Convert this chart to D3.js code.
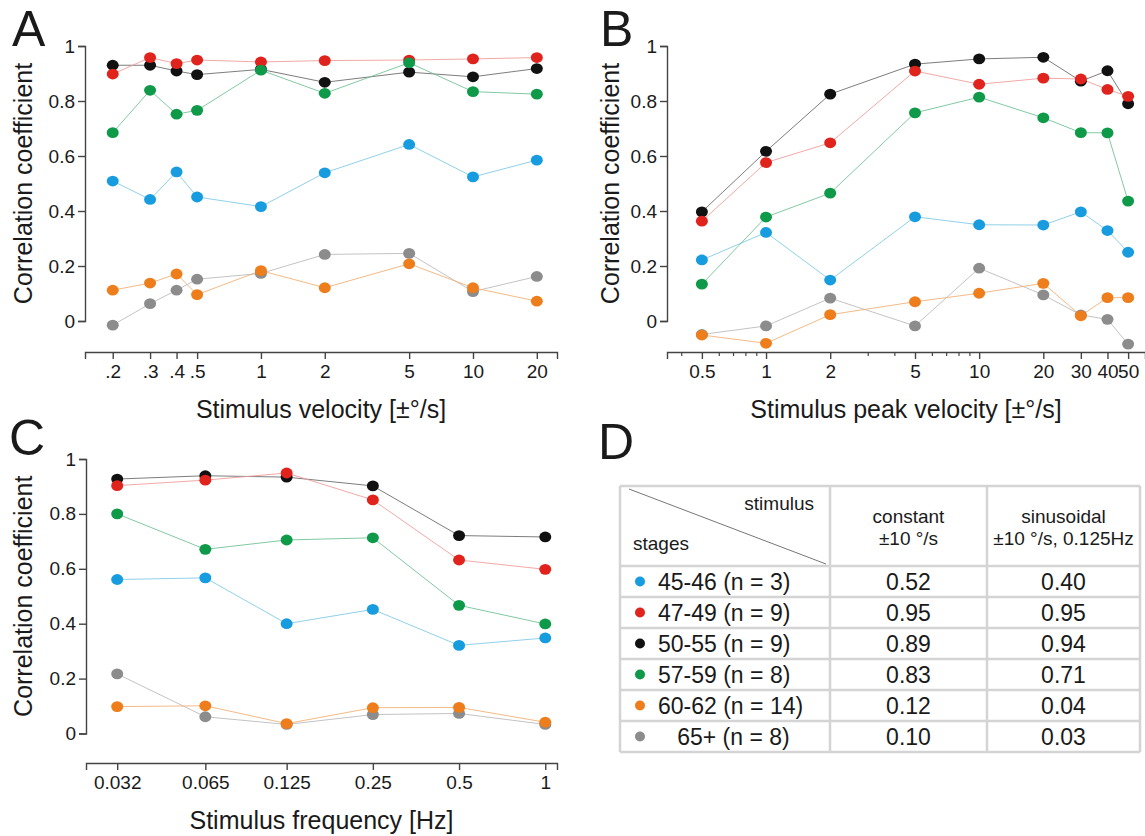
<!DOCTYPE html>
<html>
<head>
<meta charset="utf-8">
<script src="https://cdn.jsdelivr.net/npm/d3@7"></script>
<style>
  body { margin: 0; background: #fff; }
  svg text { font-family: "Liberation Sans", Arial, sans-serif; fill: #1a1a1a; }
</style>
</head>
<body>
<div id="chart-area"></div>
<script>
// series (stage groups) in table order
var stages = ["45-46 (n = 3)", "47-49 (n = 9)", "50-55 (n = 9)", "57-59 (n = 8)", "60-62 (n = 14)", "   65+ (n = 8)"];
var dotColors = ["#189ce0", "#e0241d", "#111111", "#0e9a48", "#ee7d1b", "#8c8c8c"];
var lineColors = ["#7cc8e6", "#ee9a96", "#666666", "#6cbf92", "#f1ad70", "#b8b8b8"];
// drawing order bottom -> top (indices into stages)
var drawOrder = [5, 2, 0, 1, 3, 4];

// Panel A: constant velocity
var velA = [0.2, 0.3, 0.4, 0.5, 1, 2, 5, 10, 20];
var velALabels = [".2", ".3", ".4", ".5", "1", "2", "5", "10", "20"];
var aBlue   = [0.509, 0.442, 0.542, 0.451, 0.416, 0.539, 0.642, 0.524, 0.585];
var aRed    = [0.898, 0.958, 0.936, 0.949, 0.942, 0.947, 0.949, 0.953, 0.958];
var aBlack  = [0.930, 0.930, 0.909, 0.896, 0.915, 0.868, 0.905, 0.888, 0.918];
var aGreen  = [0.685, 0.839, 0.752, 0.766, 0.912, 0.828, 0.939, 0.834, 0.825];
var aOrange = [0.112, 0.138, 0.171, 0.096, 0.183, 0.121, 0.208, 0.121, 0.072];
var aGray   = [-0.015, 0.063, 0.112, 0.152, 0.173, 0.242, 0.246, 0.107, 0.162];

// Panel B: sinusoidal peak velocity
var velB = [0.5, 1, 2, 5, 10, 20, 30, 40, 50];
var velBLabels = ["0.5", "1", "2", "5", "10", "20", "30", "40", "50"];
var velBMinor = [0.4, 0.6, 0.7, 0.8, 0.9, 3, 4, 6, 7, 8, 9];
var bBlue   = [0.222, 0.322, 0.149, 0.379, 0.350, 0.349, 0.397, 0.329, 0.250];
var bRed    = [0.363, 0.576, 0.648, 0.909, 0.861, 0.883, 0.880, 0.842, 0.817];
var bBlack  = [0.397, 0.617, 0.825, 0.934, 0.953, 0.959, 0.872, 0.910, 0.790];
var bGreen  = [0.134, 0.378, 0.465, 0.757, 0.814, 0.739, 0.685, 0.684, 0.436];
var bOrange = [-0.051, -0.081, 0.023, 0.070, 0.101, 0.137, 0.019, 0.085, 0.085];
var bGray   = [-0.049, -0.018, 0.083, -0.018, 0.192, 0.095, 0.022, 0.006, -0.084];

// Panel C: stimulus frequency
var freqC = [0.032, 0.065, 0.125, 0.25, 0.5, 1];
var freqCLabels = ["0.032", "0.065", "0.125", "0.25", "0.5", "1"];
var cBlue   = [0.561, 0.567, 0.400, 0.452, 0.321, 0.348];
var cRed    = [0.903, 0.923, 0.949, 0.851, 0.632, 0.598];
var cBlack  = [0.927, 0.939, 0.934, 0.902, 0.721, 0.716];
var cGreen  = [0.800, 0.671, 0.705, 0.713, 0.467, 0.399];
var cOrange = [0.098, 0.101, 0.036, 0.094, 0.095, 0.041];
var cGray   = [0.217, 0.061, 0.033, 0.069, 0.073, 0.033];

// Panel D: table
var tableCols = ["constant", "sinusoidal"];
var tableSub = ["±10 °/s", "±10 °/s, 0.125Hz"];
var constantVals = ["0.52", "0.95", "0.89", "0.83", "0.12", "0.10"];
var sinusoidalVals = ["0.40", "0.95", "0.94", "0.71", "0.04", "0.03"];

var yTicks = [0, 0.2, 0.4, 0.6, 0.8, 1];

var svg = d3.select("#chart-area").append("svg")
    .attr("width", 1145)
    .attr("height", 836);

function panel(p) {
    var x = d3.scaleLog().domain(p.xDomain).range(p.xRange);
    var y = d3.scaleLinear().domain([0, 1]).range(p.yRange);
    var g = svg.append("g");

    // panel letter
    g.append("text")
        .attr("x", p.letterX).attr("y", p.letterY)
        .attr("font-size", "50px")
        .text(p.letter);

    // y axis
    var yAxis = g.append("g")
        .attr("transform", "translate(" + p.xRange[0] + ",0)")
        .call(d3.axisLeft(y).tickValues(yTicks).tickSizeOuter(0).tickSize(7).tickPadding(3)
            .tickFormat(function(d) { return d === 0 || d === 1 ? d3.format("d")(d) : d3.format(".1f")(d); }));
    yAxis.selectAll("text").attr("font-size", "19px").attr("fill", "#1a1a1a").attr("font-family", null);
    yAxis.selectAll("line, path").attr("stroke", "#444").attr("stroke-width", 1.4);

    g.append("text")
        .attr("transform", "translate(" + (p.xRange[0] - p.yLabelOffset) + "," + ((p.yRange[0] + p.yRange[1]) / 2) + ") rotate(-90)")
        .attr("text-anchor", "middle")
        .attr("font-size", "25px")
        .text("Correlation coefficient");

    // x axis
    var xAxis = g.append("g")
        .attr("transform", "translate(0," + p.xAxisY + ")")
        .call(d3.axisBottom(x).tickValues(p.xs).tickSizeOuter(0).tickSize(7).tickPadding(6)
            .tickFormat(function(d, i) { return p.xLabels[i]; }));
    xAxis.selectAll("text").attr("font-size", "19px").attr("fill", "#1a1a1a").attr("font-family", null);
    xAxis.selectAll("line, path").attr("stroke", "#444").attr("stroke-width", 1.4);

    if (p.minor) {
        var minorAxis = g.append("g")
            .attr("transform", "translate(0," + p.xAxisY + ")")
            .call(d3.axisBottom(x).tickValues(p.minor).tickSize(4).tickFormat(""));
        minorAxis.select(".domain").remove();
        minorAxis.selectAll("line").attr("stroke", "#444").attr("stroke-width", 1.2);
    }

    g.append("text")
        .attr("x", (p.xRange[0] + p.xRange[1]) / 2)
        .attr("y", p.titleY)
        .attr("text-anchor", "middle")
        .attr("font-size", "25px")
        .text(p.title);

    var line = d3.line()
        .x(function(d) { return x(d[0]); })
        .y(function(d) { return y(d[1]); });

    drawOrder.forEach(function(s) {
        var pts = p.xs.map(function(v, i) { return [v, p.series[s][i]]; });
        g.append("path")
            .attr("d", line(pts))
            .attr("fill", "none")
            .attr("stroke", lineColors[s])
            .attr("stroke-width", 0.85);
    });
    drawOrder.forEach(function(s) {
        g.selectAll(null)
            .data(p.xs.map(function(v, i) { return [v, p.series[s][i]]; }))
            .enter().append("ellipse")
            .attr("cx", function(d) { return x(d[0]); })
            .attr("cy", function(d) { return y(d[1]); })
            .attr("rx", 6)
            .attr("ry", 5.4)
            .attr("fill", dotColors[s]);
    });
}

panel({
    letter: "A", letterX: 12, letterY: 46,
    xDomain: [0.148, 24.9], xRange: [85, 557],
    yRange: [321, 46], xAxisY: 352, yLabelOffset: 53, titleY: 418,
    xs: velA, xLabels: velALabels,
    series: [aBlue, aRed, aBlack, aGreen, aOrange, aGray],
    title: "Stimulus velocity [±°/s]"
});

panel({
    letter: "B", letterX: 600, letterY: 46,
    xDomain: [0.343, 60], xRange: [667, 1145],
    yRange: [321, 46], xAxisY: 352, yLabelOffset: 48, titleY: 418,
    xs: velB, xLabels: velBLabels, minor: velBMinor,
    series: [bBlue, bRed, bBlack, bGreen, bOrange, bGray],
    title: "Stimulus peak velocity [±°/s]"
});

panel({
    letter: "C", letterX: 9, letterY: 455,
    xDomain: [0.0249, 1.099], xRange: [86, 557],
    yRange: [733.5, 459], xAxisY: 763, yLabelOffset: 54, titleY: 829,
    xs: freqC, xLabels: freqCLabels,
    series: [cBlue, cRed, cBlack, cGreen, cOrange, cGray],
    title: "Stimulus frequency [Hz]"
});

// Panel D table
(function() {
    var g = svg.append("g");
    g.append("text").attr("x", 598).attr("y", 459).attr("font-size", "50px").text("D");

    var colEdges = [620, 830, 987, 1140];
    var headerTop = 486, headerBottom = 566;
    var rowY = d3.scaleBand().domain(d3.range(stages.length)).range([headerBottom, 752]);

    var border = "#d4d4d4";
    // horizontal rules
    var hLines = [headerTop, headerBottom].concat(d3.range(1, stages.length + 1).map(function(i) {
        return i < stages.length ? rowY(i) : rowY.range()[1];
    }));
    g.selectAll(null).data(hLines).enter().append("line")
        .attr("x1", colEdges[0]).attr("x2", colEdges[3])
        .attr("y1", function(d) { return d; }).attr("y2", function(d) { return d; })
        .attr("stroke", border).attr("stroke-width", 2.5);
    g.selectAll(null).data(colEdges).enter().append("line")
        .attr("y1", headerTop).attr("y2", 752)
        .attr("x1", function(d) { return d; }).attr("x2", function(d) { return d; })
        .attr("stroke", border).attr("stroke-width", 2.5);

    // header diagonal
    g.append("line")
        .attr("x1", 629).attr("y1", 489).attr("x2", 826).attr("y2", 564)
        .attr("stroke", "#666").attr("stroke-width", 0.9);
    g.append("text").attr("x", 814).attr("y", 510).attr("text-anchor", "end")
        .attr("font-size", "19px").text("stimulus");
    g.append("text").attr("x", 633).attr("y", 550)
        .attr("font-size", "19px").text("stages");

    var centers = [(colEdges[1] + colEdges[2]) / 2, (colEdges[2] + colEdges[3]) / 2];
    tableCols.forEach(function(c, i) {
        g.append("text").attr("x", centers[i]).attr("y", 523).attr("text-anchor", "middle")
            .attr("font-size", "19px").text(c);
        g.append("text").attr("x", centers[i]).attr("y", 545).attr("text-anchor", "middle")
            .attr("font-size", "19px").text(tableSub[i]);
    });

    var rows = g.selectAll(".row").data(stages).enter().append("g")
        .attr("class", "row")
        .attr("transform", function(d, i) { return "translate(0," + (rowY(i) + rowY.bandwidth() / 2) + ")"; });
    rows.append("circle").attr("cx", 640).attr("cy", 0).attr("r", 5)
        .attr("fill", function(d, i) { return dotColors[i]; });
    rows.append("text").attr("x", 658).attr("y", 8)
        .attr("font-size", "23px").style("white-space", "pre")
        .text(function(d) { return d; });
    rows.append("text").attr("x", centers[0]).attr("y", 8).attr("text-anchor", "middle")
        .attr("font-size", "23px").text(function(d, i) { return constantVals[i]; });
    rows.append("text").attr("x", centers[1]).attr("y", 8).attr("text-anchor", "middle")
        .attr("font-size", "23px").text(function(d, i) { return sinusoidalVals[i]; });
})();
</script>
</body>
</html>
